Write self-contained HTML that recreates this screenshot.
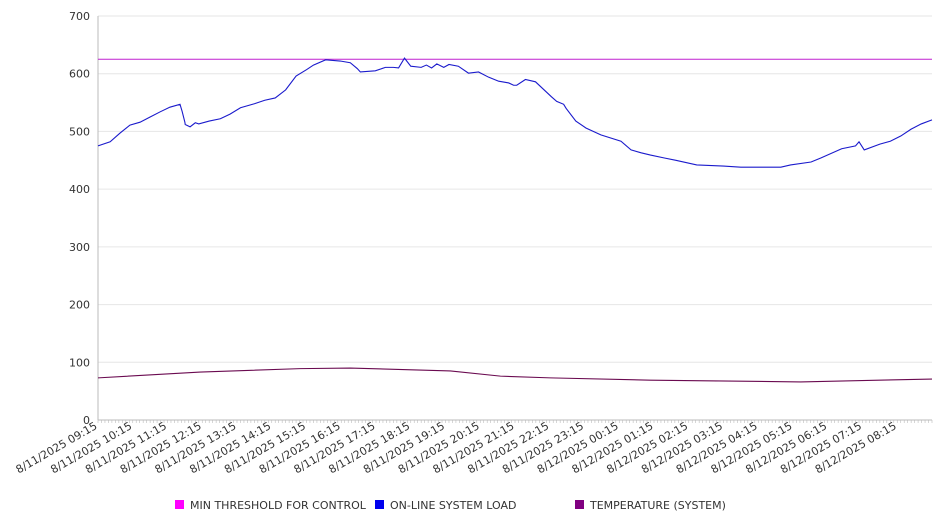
<!DOCTYPE html>
<html><head><meta charset="utf-8"><style>
body{margin:0;background:#fff}
svg text{font-family:"DejaVu Sans","Liberation Sans",sans-serif;fill:#333}
</style></head><body>
<svg id="c" width="946" height="526"></svg>
<script>
const yTicks=[0,100,200,300,400,500,600,700];
const xLabels=["8/11/2025 09:15","8/11/2025 10:15","8/11/2025 11:15","8/11/2025 12:15","8/11/2025 13:15","8/11/2025 14:15","8/11/2025 15:15","8/11/2025 16:15","8/11/2025 17:15","8/11/2025 18:15","8/11/2025 19:15","8/11/2025 20:15","8/11/2025 21:15","8/11/2025 22:15","8/11/2025 23:15","8/12/2025 00:15","8/12/2025 01:15","8/12/2025 02:15","8/12/2025 03:15","8/12/2025 04:15","8/12/2025 05:15","8/12/2025 06:15","8/12/2025 07:15","8/12/2025 08:15"];
const threshold=625;
const loadHours=[0,0.35,0.63,0.92,1.21,1.5,1.79,2.07,2.36,2.42,2.5,2.51,2.65,2.8,2.9,3.2,3.52,3.8,4.1,4.5,4.8,5.1,5.4,5.7,6.0,6.2,6.55,6.97,7.26,7.46,7.55,7.98,8.27,8.5,8.65,8.82,9.0,9.3,9.45,9.6,9.75,9.95,10.1,10.37,10.66,10.95,11.24,11.53,11.82,11.96,12.05,12.3,12.59,12.82,13.05,13.2,13.4,13.47,13.75,14.04,14.47,15.05,15.34,15.63,15.9,16.3,16.63,17.23,18.0,18.5,19.65,19.93,20.52,20.8,21.4,21.8,21.9,22.05,22.5,22.8,23.1,23.4,23.69,24.0];
const loadVals=[475,482,497,511,516,525,534,542,547,535,516,512,508,515,513,518,522,530,541,548,554,558,572,596,607,615,624,622,619,609,603,605,611,611,610,627,613,611,615,610,617,611,616,613,601,603,594,587,584,580,580,590,586,573,560,552,547,540,518,506,494,483,468,463,459,454,450,442,440,438,438,442,447,454,470,475,482,468,478,483,492,504,513,520];
const tempHours=[0,2.94,5.82,7.26,10.14,11.58,13.02,15.9,20.22,24.0];
const tempVals=[73,83,89,90,85,76,73,69,66,71];

const svg=document.getElementById('c');const NS='http://www.w3.org/2000/svg';
const X0=98,X1=932,Y0=420,Y1=16;
const xs=h=>X0+h*(X1-X0)/24;
const ys=v=>Y0-v*(Y0-Y1)/700;
function mk(t,a,p){const e=document.createElementNS(NS,t);for(const k in a)e.setAttribute(k,a[k]);(p||svg).appendChild(e);return e;}
yTicks.forEach(v=>{
 const g=mk('line',{x1:X0,x2:X1,y1:ys(v),y2:ys(v),stroke:v===0?'#bbb':'#e6e6e6','stroke-width':1});
 
 
 const t=mk('text',{x:X0-8,y:ys(v)+4,'text-anchor':'end','font-size':11});t.textContent=v;
 
 
});
mk('line',{x1:X0,x2:X0,y1:Y1,y2:Y0,stroke:'#bbb'});
for(let i=0;i<=240;i++){const x=xs(i/10);mk('line',{x1:x,x2:x,y1:Y0,y2:Y0+3,stroke:'#bbb','stroke-width':0.6});}
xLabels.forEach((l,i)=>{
 const x=xs(i);
 const t=mk('text',{x:x,y:Y0+8,'text-anchor':'end','font-size':11,transform:`rotate(-30 ${x} ${Y0+8})`});
 t.textContent=l;
 
 
});
const th=mk('line',{x1:X0,x2:X1,y1:ys(threshold),y2:ys(threshold),stroke:'#c020d0','stroke-width':1});


const lp=mk('polyline',{points:loadHours.map((h,i)=>xs(h)+','+ys(loadVals[i])).join(' '),fill:'none',stroke:'#1a1acc','stroke-width':1.1});


const tp=mk('polyline',{points:tempHours.map((h,i)=>xs(h)+','+ys(tempVals[i])).join(' '),fill:'none',stroke:'#6a0a50','stroke-width':1.1});


const leg=[["MIN THRESHOLD FOR CONTROL","#ff00ff",175],["ON-LINE SYSTEM LOAD","#0000ee",375],["TEMPERATURE (SYSTEM)","#800080",575]];
leg.forEach(l=>{
 const g=mk('g',{});
 
 
 mk('rect',{x:l[2],y:500,width:9,height:9,fill:l[1]},g);
 const t=mk('text',{x:l[2]+15,y:509,'font-size':11},g);t.textContent=l[0];
});
</script>
</body></html>
